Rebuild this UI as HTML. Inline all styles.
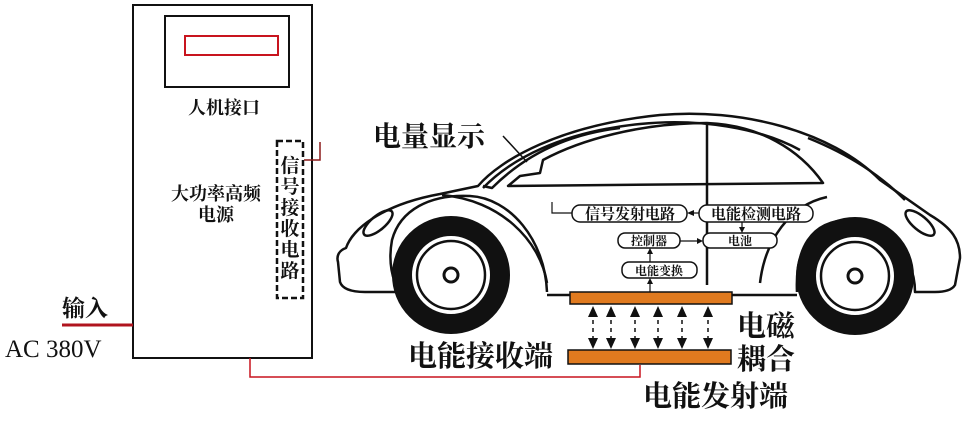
<!DOCTYPE html>
<html><head><meta charset="utf-8"><style>
html,body{margin:0;padding:0;background:#fff;}
svg{display:block;}
text{font-family:"Liberation Serif","Noto Serif CJK SC","Noto Sans CJK SC",serif;fill:#111;}
.b{font-weight:bold;}
</style></head><body>
<svg width="970" height="422" viewBox="0 0 970 422" xmlns="http://www.w3.org/2000/svg">
<!-- Power supply cabinet -->
<rect x="133" y="5" width="179" height="353" fill="none" stroke="#111" stroke-width="2"/>
<rect x="165" y="16" width="124" height="71" fill="none" stroke="#111" stroke-width="2"/>
<rect x="185" y="36" width="93" height="19" fill="none" stroke="#c8141e" stroke-width="2"/>
<text x="224" y="114" font-size="18" text-anchor="middle" class="b">人机接口</text>
<text x="216" y="200" font-size="18" text-anchor="middle" class="b">大功率高频</text>
<text x="216" y="221" font-size="18" text-anchor="middle" class="b">电源</text>
<rect x="277" y="141" width="26" height="157" fill="none" stroke="#111" stroke-width="2.5" stroke-dasharray="6,3"/>
<g font-size="19" text-anchor="middle" class="b">
<text x="290" y="172">信</text><text x="290" y="193">号</text><text x="290" y="214">接</text>
<text x="290" y="235">收</text><text x="290" y="256">电</text><text x="290" y="277">路</text>
</g>
<polyline points="320,142 320,160 304,160" fill="none" stroke="#8b1a1a" stroke-width="1.5"/>
<text x="62" y="316" font-size="23" class="b">输入</text>
<line x1="62" y1="325" x2="133" y2="325" stroke="#b0141e" stroke-width="3"/>
<text x="5" y="357" font-size="25">AC 380V</text>
<polyline points="250,358 250,377 640,377 640,365" fill="none" stroke="#c8141e" stroke-width="1.5"/>

<!-- Car body -->
<g fill="none" stroke="#111" stroke-width="2.5" stroke-linejoin="round">
<path d="M547,295 L570,295 M731,295 L797,295"/>
<path d="M547,292 C545,240 510,198 470,196 C430,194 400,210 392,240 C388,262 392,280 400,292 L365,292 C350,292 342,288 340,282 L338,262 C336,255 340,250 346,248 C352,230 380,205 440,194 L478,186 C500,160 560,125 660,115 C740,108 830,130 880,180 L930,215 C952,228 960,240 960,258 L955,285 C952,290 945,292 935,292 L915,292 C915,250 880,222 850,220 C810,220 795,250 797,292"/>
<path d="M483,188 C510,160 560,132 640,124 C700,118 760,128 800,150" />
<path d="M483,186 L492,188 C520,160 560,135 620,128"/>
<path d="M508,186 L520,176 L540,173 L543,160 C580,140 640,123 707,123 C760,125 800,150 823,183 L508,186 Z"/>
<path d="M707,123 L707,285"/>
<path d="M442,195 C500,200 540,240 547,283"/>
<path d="M827,197 C790,205 765,240 760,283"/>
<path d="M808,138 C850,155 880,175 905,200"/>
<ellipse cx="378" cy="223" rx="18" ry="7" transform="rotate(-40 378 223)"/>
<ellipse cx="920" cy="223" rx="18" ry="7" transform="rotate(40 920 223)"/>
</g>
<!-- wheels -->
<g fill="#fff" stroke="#111">
<circle cx="451" cy="275" r="49" stroke-width="20"/>
<circle cx="451" cy="275" r="34" stroke-width="2.5"/>
<circle cx="451" cy="275" r="7" stroke-width="3"/>
<circle cx="855" cy="276" r="49" stroke-width="20"/>
<circle cx="855" cy="276" r="34" stroke-width="2.5"/>
<circle cx="855" cy="276" r="7" stroke-width="3"/>
</g>
<text x="373" y="146" font-size="28" class="b">电量显示</text>
<line x1="503" y1="136" x2="527" y2="162" stroke="#111" stroke-width="1.5"/>

<!-- internal blocks -->
<g fill="#fff" stroke="#111" stroke-width="1.5">
<rect x="572" y="205" width="115" height="17" rx="8"/>
<rect x="699" y="205" width="114" height="17" rx="8"/>
<rect x="618" y="233" width="62" height="15" rx="7"/>
<rect x="703" y="233" width="74" height="15" rx="7"/>
<rect x="622" y="262" width="75" height="16" rx="7"/>
</g>
<g font-size="15" text-anchor="middle" class="b">
<text x="630" y="219">信号发射电路</text>
<text x="756" y="219">电能检测电路</text>
<text x="649" y="245" font-size="12">控制器</text>
<text x="740" y="245" font-size="12">电池</text>
<text x="659" y="275" font-size="12">电能变换</text>
</g>
<g stroke="#111" stroke-width="1.2" fill="none">
<polyline points="552,202 552,213 572,213"/>
<line x1="699" y1="213" x2="690" y2="213"/>
<line x1="742" y1="222" x2="742" y2="230"/>
<line x1="680" y1="241" x2="700" y2="241"/>
<line x1="650" y1="262" x2="650" y2="251"/>
<line x1="650" y1="292" x2="650" y2="281"/>
</g>
<g fill="#111">
<polygon points="687,213 694,210 694,216"/>
<polygon points="742,233 739,227 745,227"/>
<polygon points="703,241 697,238 697,244"/>
<polygon points="650,248 647,254 653,254"/>
<polygon points="650,278 647,284 653,284"/>
</g>

<!-- coils -->
<rect x="570" y="292" width="162" height="12" fill="#e07a1f" stroke="#111" stroke-width="1.5"/>
<rect x="568" y="350" width="163" height="14" fill="#e07a1f" stroke="#111" stroke-width="1.5"/>
<g stroke="#111" stroke-width="1.5" stroke-dasharray="4,4">
<line x1="593" y1="312" x2="593" y2="342"/><line x1="611" y1="312" x2="611" y2="342"/>
<line x1="635" y1="312" x2="635" y2="342"/><line x1="658" y1="312" x2="658" y2="342"/>
<line x1="682" y1="312" x2="682" y2="342"/><line x1="708" y1="312" x2="708" y2="342"/>
</g>
<g fill="#111">
<polygon points="593,306 588,317 598,317"/><polygon points="593,349 588,338 598,338"/>
<polygon points="611,306 606,317 616,317"/><polygon points="611,349 606,338 616,338"/>
<polygon points="635,306 630,317 640,317"/><polygon points="635,349 630,338 640,338"/>
<polygon points="658,306 653,317 663,317"/><polygon points="658,349 653,338 663,338"/>
<polygon points="682,306 677,317 687,317"/><polygon points="682,349 677,338 687,338"/>
<polygon points="708,306 703,317 713,317"/><polygon points="708,349 703,338 713,338"/>
</g>
<text x="408" y="366" font-size="29" class="b">电能接收端</text>
<text x="737" y="336" font-size="29" class="b">电磁</text>
<text x="737" y="369" font-size="29" class="b">耦合</text>
<text x="643" y="406" font-size="29" class="b">电能发射端</text>
</svg>
</body></html>
